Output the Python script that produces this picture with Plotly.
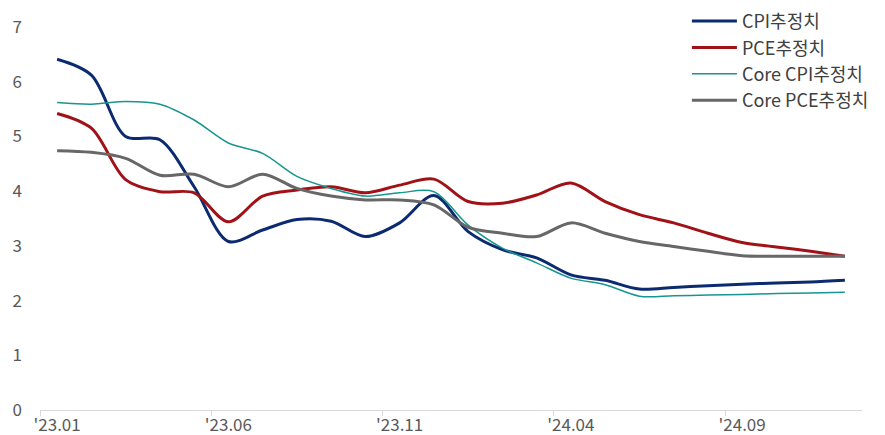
import plotly.graph_objects as go

months = ["'23.01","'23.02","'23.03","'23.04","'23.05","'23.06","'23.07","'23.08","'23.09","'23.10","'23.11","'23.12",
          "'24.01","'24.02","'24.03","'24.04","'24.05","'24.06","'24.07","'24.08","'24.09","'24.10","'24.11","'24.12"]
tick_labels = ["'23.01", "'23.06", "'23.11", "'24.04", "'24.09"]

cpi = [6.41, 6.12, 5.00, 4.94, 4.08, 3.08, 3.29, 3.48, 3.45, 3.17, 3.42, 3.92,
       3.26, 2.93, 2.78, 2.47, 2.37, 2.21, 2.24, 2.27, 2.30, 2.32, 2.34, 2.37]
pce = [5.42, 5.15, 4.21, 3.99, 3.97, 3.44, 3.91, 4.02, 4.08, 3.97, 4.11, 4.22,
       3.81, 3.78, 3.93, 4.15, 3.81, 3.57, 3.42, 3.23, 3.06, 2.98, 2.90, 2.81]
core_cpi = [5.62, 5.59, 5.64, 5.59, 5.30, 4.88, 4.69, 4.27, 4.05, 3.91, 3.97, 3.99,
            3.38, 2.96, 2.69, 2.41, 2.29, 2.08, 2.09, 2.10, 2.11, 2.13, 2.14, 2.15]
core_pce = [4.74, 4.71, 4.60, 4.29, 4.31, 4.08, 4.31, 4.05, 3.91, 3.84, 3.84, 3.75,
            3.34, 3.23, 3.17, 3.42, 3.23, 3.08, 2.99, 2.90, 2.82, 2.81, 2.81, 2.81]

x = list(range(len(months)))
series = [
    ("CPI추정치", cpi, "#0b2a6f", 3),
    ("PCE추정치", pce, "#a01218", 3),
    ("Core CPI추정치", core_cpi, "#17958f", 1.5),
    ("Core PCE추정치", core_pce, "#676767", 3),
]

fig = go.Figure()
for name, vals, color, w in series:
    fig.add_trace(go.Scatter(x=x, y=vals, name=name, mode="lines",
                             line=dict(color=color, width=w, shape="spline", smoothing=0.9),
                             customdata=months))

font_family = "Noto Sans CJK KR, Noto Sans, sans-serif"
fig.update_layout(
    width=885, height=435,
    margin=dict(l=40, r=23, t=27, b=25, autoexpand=False),
    paper_bgcolor="white", plot_bgcolor="white",
    font=dict(family=font_family, color="#595959", size=17),
    showlegend=True,
    legend=dict(x=0.787, y=1.063, xanchor="left", yanchor="top",
                font=dict(size=18, color="#404040"), bgcolor="rgba(0,0,0,0)",
                tracegroupgap=0, itemwidth=45),
)
fig.update_xaxes(
    range=[-0.5, 23.5], tickmode="array", automargin=False,
    tickvals=[months.index(t) for t in tick_labels], ticktext=tick_labels,
    ticks="", showgrid=False, zeroline=False,
    showline=True, linecolor="#d9d9d9", linewidth=1,
    tickfont=dict(size=17, color="#595959"),
    minor=dict(tickmode="array", tickvals=[-0.5, 4.5, 9.5, 14.5, 19.5],
               ticks="outside", ticklen=5, tickcolor="#d9d9d9", tickwidth=1, showgrid=False),
)
fig.update_yaxes(
    range=[0, 7], tickmode="array", tickvals=list(range(8)), automargin=False,
    showgrid=False, zeroline=False, showline=False, ticks="",
    ticklabelstandoff=17, tickfont=dict(size=17, color="#595959"),
)

fig.write_html("out.html")
